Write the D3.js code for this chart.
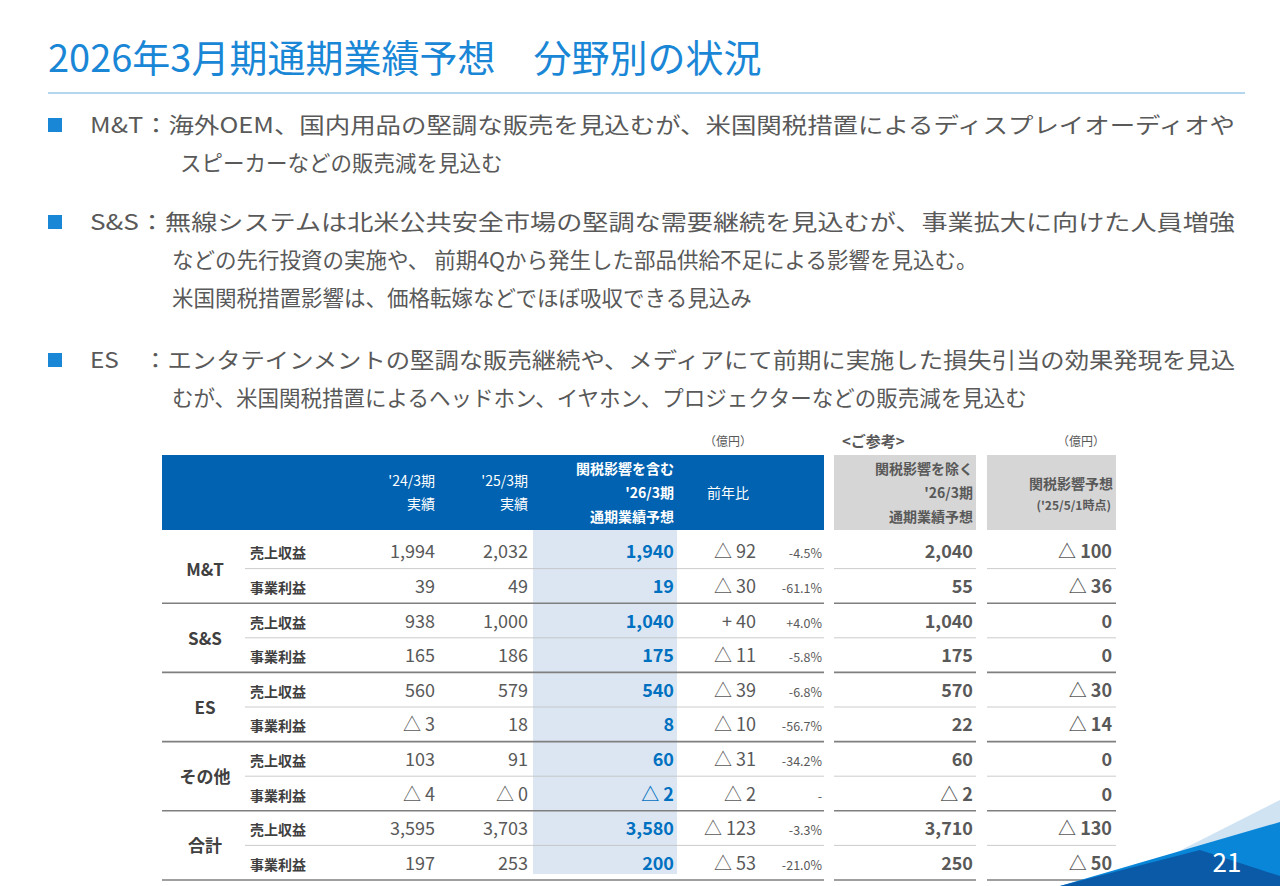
<!DOCTYPE html>
<html><head><meta charset="utf-8">
<script src="https://cdn.jsdelivr.net/npm/d3@7"></script>
<style>body{margin:0;background:#fff}svg{display:block;font-family:"Noto Sans CJK JP","Noto Sans",sans-serif}</style>
</head><body><svg id="c" width="1280" height="886"></svg>
<script>
// table data (億円)
const segments = ["M&T", "S&S", "ES", "その他", "合計"];
const items = ["売上収益", "事業利益"];
const v24 = ["1,994","39","938","165","560","△ 3","103","△ 4","3,595","197"];
const v25 = ["2,032","49","1,000","186","579","18","91","△ 0","3,703","253"];
const v26 = ["1,940","19","1,040","175","540","8","60","△ 2","3,580","200"];
const yoy = ["△ 92","△ 30","+ 40","△ 11","△ 39","△ 10","△ 31","△ 2","△ 123","△ 53"];
const yoyPct = ["-4.5%","-61.1%","+4.0%","-5.8%","-6.8%","-56.7%","-34.2%","-","-3.3%","-21.0%"];
const ref26 = ["2,040","55","1,040","175","570","22","60","△ 2","3,710","250"];
const tariff = ["△ 100","△ 36","0","0","△ 30","△ 14","0","0","△ 130","△ 50"];

const bullets = [
  {x:90, lines:[["M&T：海外OEM、国内用品の堅調な販売を見込むが、米国関税措置によるディスプレイオーディオや",0],["スピーカーなどの販売減を見込む",90]]},
  {x:90, lines:[["S&S：無線システムは北米公共安全市場の堅調な需要継続を見込むが、事業拡大に向けた人員増強",0],["などの先行投資の実施や、 前期4Qから発生した部品供給不足による影響を見込む。",82],["米国関税措置影響は、価格転嫁などでほぼ吸収できる見込み",82]]},
  {x:90, lines:[["ES　：エンタテインメントの堅調な販売継続や、メディアにて前期に実施した損失引当の効果発現を見込",0],["むが、米国関税措置によるヘッドホン、イヤホン、プロジェクターなどの販売減を見込む",82]]}
];
const bulletY = [133, 230, 368];

const svg = d3.select("#c");
const grey = "#595959", blue = "#0070c0";

svg.append("text").attr("x",48).attr("y",72).attr("font-size",38).attr("fill","#1a86d6")
  .text("2026年3月期通期業績予想　分野別の状況");
svg.append("line").attr("x1",48).attr("x2",1245).attr("y1",93).attr("y2",93).attr("stroke","#9cc9ea").attr("stroke-width",1.5);

bullets.forEach((b,i)=>{
  svg.append("rect").attr("x",48).attr("y",bulletY[i]-15).attr("width",14).attr("height",14).attr("fill","#1a86d6");
  b.lines.forEach((l,j)=>{
    svg.append("text").attr("x",b.x+l[1]).attr("y",bulletY[i]+j*38).attr("font-size",21.5)
      .attr("textLength", j===0 ? 1145 : null).attr("lengthAdjust","spacingAndGlyphs")
      .attr("fill",grey).text(l[0]);
  });
});

// rows
const rowY = d3.scaleBand().domain(d3.range(10)).range([534, 880]);
const hdrT = 455, hdrB = 530, bot = 874;

svg.append("rect").attr("x",533).attr("y",hdrB).attr("width",144).attr("height",bot-hdrB).attr("fill","#dce6f2");
svg.append("rect").attr("x",162).attr("y",hdrT).attr("width",662).attr("height",hdrB-hdrT).attr("fill","#0062b0");
svg.append("rect").attr("x",834).attr("y",hdrT).attr("width",142).attr("height",hdrB-hdrT).attr("fill","#d6d6d6");
svg.append("rect").attr("x",987).attr("y",hdrT).attr("width",129).attr("height",hdrB-hdrT).attr("fill","#d6d6d6");

const hdr = (x, y, t, opt={}) => svg.append("text").attr("x",x).attr("y",y)
  .attr("text-anchor",opt.a||"end").attr("font-size",opt.s||14).attr("font-weight",opt.b?"bold":"normal")
  .attr("fill",opt.c||"#fff").text(t);
hdr(435,486,"'24/3期"); hdr(435,509,"実績");
hdr(528,486,"'25/3期"); hdr(528,509,"実績");
hdr(674,474,"関税影響を含む",{b:1}); hdr(674,498,"'26/3期",{b:1}); hdr(674,522,"通期業績予想",{b:1});
hdr(707,498,"前年比",{a:"start"});
hdr(973,474,"関税影響を除く",{b:1,c:grey}); hdr(973,498,"'26/3期",{b:1,c:grey}); hdr(973,522,"通期業績予想",{b:1,c:grey});
hdr(1113,489,"関税影響予想",{b:1,c:grey}); hdr(1111,510,"('25/5/1時点)",{b:1,c:grey,s:12});
hdr(752,446,"（億円）",{c:grey,s:12}); hdr(1105,446,"（億円）",{c:grey,s:12});
hdr(842,447,"<ご参考>",{c:grey,s:15,a:"start",b:1});

const h = rowY.bandwidth();
d3.range(10).forEach(i=>{
  const y = rowY(i) + h/2 + 7;
  const g = svg.append("g");
  const t = (x,s,opt={}) => g.append("text").attr("x",x).attr("y",y).attr("text-anchor",opt.a||"end")
    .attr("font-size",opt.s||18).attr("font-weight",opt.b?"bold":"normal").attr("fill",opt.c||grey).text(s);
  t(250, items[i%2], {a:"start",s:14,b:1,c:"#404040"});
  t(435, v24[i]); t(528, v25[i]);
  t(674, v26[i], {b:1,c:blue});
  t(756, yoy[i]); t(822, yoyPct[i], {s:12.5});
  t(973, ref26[i], {b:1}); t(1112, tariff[i], {b:1});
  const ly = rowY(i)+h;
  const odd = i%2===0;
  const sw = odd ? 0.8 : 1.6, sc = odd ? "#bfbfbf" : "#7f7f7f";
  svg.append("line").attr("x1",odd?245:162).attr("x2",824).attr("y1",ly).attr("y2",ly).attr("stroke",sc).attr("stroke-width",sw);
  svg.append("line").attr("x1",834).attr("x2",976).attr("y1",ly).attr("y2",ly).attr("stroke",sc).attr("stroke-width",sw);
  svg.append("line").attr("x1",987).attr("x2",1116).attr("y1",ly).attr("y2",ly).attr("stroke",sc).attr("stroke-width",sw);
});
segments.forEach((s,k)=>{
  svg.append("text").attr("x",205).attr("y",rowY(2*k+1)+7).attr("text-anchor","middle")
    .attr("font-size",17).attr("font-weight","bold").attr("fill","#404040").text(s);
});

// decorative corner
svg.append("path").attr("d","M1280,800 L1110,886 L1280,886Z").attr("fill","#cfe3f3");
svg.append("path").attr("d","M1280,822 L1060,886 L1280,886Z").attr("fill","#0a86d8");
svg.append("path").attr("d","M1200,850 L1060,886 L1280,886 L1280,876Z").attr("fill","#0a5aa8");
svg.append("text").attr("x",1227).attr("y",872).attr("text-anchor","middle").attr("font-size",26).attr("fill","#fff").text("21");
</script></body></html>
